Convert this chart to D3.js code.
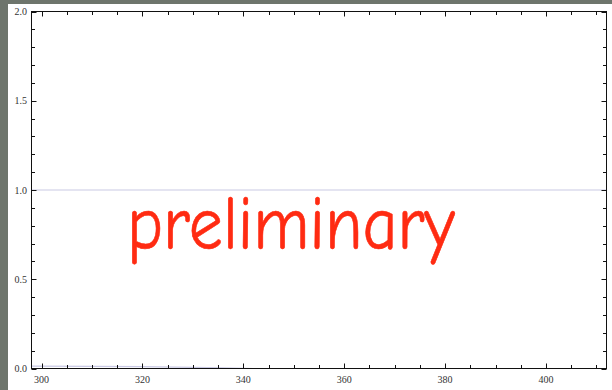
<!DOCTYPE html>
<html><head><meta charset="utf-8">
<script src="https://cdn.jsdelivr.net/npm/d3@7"></script>
<style>
html,body{margin:0;padding:0;background:#6e756c;}
svg{display:block;}
</style></head>
<body>
<svg id="c" width="612" height="390"></svg>
<script>
// Data
const xDomain = [298, 412];
const yDomain = [0, 2];
const xMajorTicks = [300, 320, 340, 360, 380, 400];
const yMajorTicks = [0, 0.5, 1.0, 1.5, 2.0];
const unitLineX = [298, 412];
const unitLineY = [1.0, 1.0];
const lowLineX = [298, 310, 320, 330, 336, 342];
const lowLineY = [0.013, 0.012, 0.01, 0.006, 0.003, 0.0];
const watermark = "preliminary";

const svg = d3.select("#c");
svg.append("rect").attr("x", 8).attr("y", 4).attr("width", 604).attr("height", 386).attr("fill", "#ffffff");

const x = d3.scaleLinear().domain(xDomain).range([31.5, 606.5]);
const y = d3.scaleLinear().domain(yDomain).range([368.5, 11.5]);

const xMinor = d3.range(300, 412, 5);
const yMinor = d3.range(0, 2.0001, 0.1);

// series lines
const line = d3.line().x(d => x(d[0])).y(d => y(d[1]));
svg.append("path").datum(unitLineX.map((v, i) => [v, unitLineY[i]]))
  .attr("d", line).attr("fill", "none").attr("stroke", "#c9c9e4").attr("stroke-width", 1.2);
svg.append("path").datum(lowLineX.map((v, i) => [v, lowLineY[i]]))
  .attr("d", line).attr("fill", "none").attr("stroke", "#c9c9e4").attr("stroke-width", 1.2);

// axes (ticks inside)
const ax = svg.append("g").attr("fill", "none").attr("stroke", "#111").attr("stroke-width", 1);
ax.append("rect").attr("x", x.range()[0]).attr("y", y.range()[1])
  .attr("width", x.range()[1] - x.range()[0]).attr("height", y.range()[0] - y.range()[1]);

function isMajorX(v){ return xMajorTicks.some(t => Math.abs(t - v) < 1e-6); }
function isMajorY(v){ return yMajorTicks.some(t => Math.abs(t - v) < 1e-6); }

xMinor.forEach(v => {
  const L = isMajorX(v) ? 5 : 3.5;
  const px = Math.round(x(v)) + 0.5;
  ax.append("line").attr("x1", px).attr("x2", px).attr("y1", y.range()[0]).attr("y2", y.range()[0] - L);
  ax.append("line").attr("x1", px).attr("x2", px).attr("y1", y.range()[1]).attr("y2", y.range()[1] + L);
});
yMinor.forEach(v => {
  const L = isMajorY(v) ? 5 : 3.5;
  const py = Math.round(y(v)) + 0.5;
  ax.append("line").attr("y1", py).attr("y2", py).attr("x1", x.range()[0]).attr("x2", x.range()[0] + L);
  ax.append("line").attr("y1", py).attr("y2", py).attr("x1", x.range()[1]).attr("x2", x.range()[1] - L);
});

const lab = svg.append("g").attr("font-family", "'Liberation Serif','DejaVu Serif',serif")
  .attr("font-size", 10).attr("fill", "#333");
xMajorTicks.forEach(v => {
  lab.append("text").attr("x", x(v)).attr("y", 383).attr("text-anchor", "middle").text(v);
});
yMajorTicks.forEach(v => {
  lab.append("text").attr("x", 27).attr("y", y(v) + 3.5).attr("text-anchor", "end").text(d3.format(".1f")(v));
});

svg.append("text").attr("x", 127).attr("y", 249)
  .attr("font-family", "'Comic Sans MS','Comic Neue',Lato,'Open Sans',sans-serif")
  .attr("font-size", 76).attr("fill", "#ff2b12")
  .attr("stroke", "#ff2b12").attr("stroke-width", 0.6).attr("stroke-linejoin", "round")
  .attr("textLength", 328).attr("lengthAdjust", "spacingAndGlyphs")
  .text(watermark);
</script>
</body></html>
